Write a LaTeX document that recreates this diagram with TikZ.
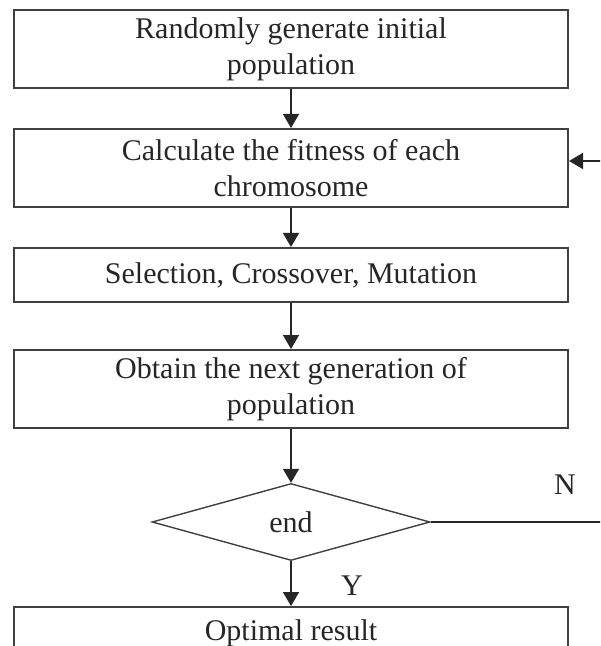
\documentclass[tikz,border=0pt]{standalone}
\usepackage{fontspec}
\setmainfont{Liberation Serif}
\usetikzlibrary{shapes.geometric,arrows.meta,positioning}

\begin{document}
\begin{tikzpicture}[x=0.5pt,y=-0.5pt]
\tikzstyle{every node}=[font=\fontsize{15}{18}\selectfont, text=black!85]
\tikzstyle{procbox}=[draw=black!75, line width=1pt, minimum width=277pt, align=center, inner sep=0pt]
\tikzstyle{decbox}=[draw=black!75, line width=0.7pt, diamond, aspect=3.6, minimum width=139pt, minimum height=38.5pt, inner sep=0pt]
\tikzstyle{flow}=[draw=black!85, line width=0.8pt, -{Triangle[width=8pt,length=7pt]}]

\useasboundingbox (0,0) rectangle (600,646);
\clip (0,0) rectangle (600,646);

\node[procbox, minimum height=39pt] (init) at (291,49) {Randomly generate initial\\population};
\node[procbox, minimum height=39pt] (fitness) at (291,168) {Calculate the fitness of each\\chromosome};
\node[procbox, minimum height=27pt] (ops) at (291,275) {Selection, Crossover, Mutation};
\node[procbox, minimum height=39pt] (nextgen) at (291,389) {Obtain the next generation of\\population};
\node[decbox] (end) at (291,522) {end};
\node[procbox, minimum height=26pt] (result) at (291,633) {Optimal result};

\node (nlab) at (565,485) {N};
\node (ylab) at (352,586) {Y};

\draw[flow] (init) -- (fitness);
\draw[flow] (fitness) -- (ops);
\draw[flow] (ops) -- (nextgen);
\draw[flow] (nextgen) -- (end);
\draw[flow] (end) -- (result);
% back to the fitness step
\draw[flow] (end.east) -- ++(190,0) |- ([yshift=3.5pt]fitness.east);
\end{tikzpicture}
\end{document}
